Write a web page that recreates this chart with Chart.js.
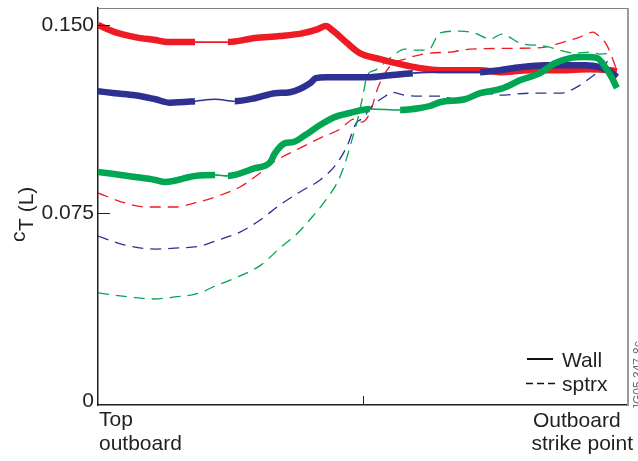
<!DOCTYPE html>
<html>
<head>
<meta charset="utf-8">
<script src="https://cdn.jsdelivr.net/npm/chart.js@4.4.0/dist/chart.umd.min.js"></script>
<style>
  html, body { margin: 0; padding: 0; background: #ffffff; }
  #wrap { width: 638px; height: 461px; position: relative; }
</style>
</head>
<body>
<div id="wrap"><canvas id="c" width="638" height="461"></canvas></div>
<script>
// Position along the outboard target: 0 = top outboard, ~98 = outboard strike point
// cT(L) profiles for three cases: wall-based (solid) and separatrix-based (dashed).

const redWallX   = [0, 3.2, 7.0, 10.8, 13.2, 18.3, 24.5, 29.6, 34.3, 38.7, 41.5, 43.0, 44.2, 45.1, 47.0, 49.4, 53.2, 57.0, 60.8, 64.5, 72.1, 75.8, 81.5, 87.2, 92.8, 96.6, 97.9];
const redWallC   = [0.1500, 0.1472, 0.1452, 0.1440, 0.1432, 0.1432, 0.1432, 0.1448, 0.1456, 0.1468, 0.1484, 0.1496, 0.1480, 0.1464, 0.1428, 0.1388, 0.1364, 0.1344, 0.1328, 0.1320, 0.1320, 0.1312, 0.1320, 0.1320, 0.1324, 0.1320, 0.1316];

const blueWallX  = [0, 3.2, 7.0, 10.8, 13.6, 18.3, 22.1, 25.8, 29.6, 33.4, 36.2, 40.0, 41.1, 43.0, 51.3, 55.1, 59.4, 64.5, 72.1, 75.8, 79.6, 84.3, 91.9, 94.7, 97.0, 97.9];
const blueWallC  = [0.1236, 0.1228, 0.1220, 0.1204, 0.1190, 0.1196, 0.1204, 0.1196, 0.1208, 0.1228, 0.1232, 0.1268, 0.1288, 0.1292, 0.1292, 0.1300, 0.1308, 0.1312, 0.1312, 0.1320, 0.1332, 0.1340, 0.1340, 0.1332, 0.1308, 0.1292];

const greenWallX = [0, 7.0, 10.8, 12.6, 18.3, 22.1, 24.5, 29.6, 32.5, 33.4, 35.3, 36.8, 39.1, 41.9, 44.7, 47.5, 51.3, 57.0, 60.8, 62.6, 64.5, 69.2, 72.1, 75.8, 77.7, 79.6, 83.4, 86.2, 89.1, 91.9, 94.2, 95.7, 97.0, 97.9];
const greenWallC = [0.0914, 0.0894, 0.0882, 0.0874, 0.0898, 0.0902, 0.0898, 0.0929, 0.0953, 0.0989, 0.1029, 0.1033, 0.1061, 0.1101, 0.1133, 0.1149, 0.1165, 0.1161, 0.1169, 0.1177, 0.1192, 0.1204, 0.1228, 0.1244, 0.1260, 0.1280, 0.1308, 0.1348, 0.1368, 0.1372, 0.1368, 0.1332, 0.1288, 0.1249];

const redSptrxX   = [0, 5.1, 8.9, 14.5, 18.3, 22.1, 26.8, 30.6, 33.4, 38.1, 41.9, 45.7, 48.3, 49.8, 51.3, 52.8, 55.1, 57.9, 62.6, 66.4, 70.2, 81.5, 84.3, 87.2, 90.9, 93.4, 94.7, 96.0, 97.9];
const redSptrxC   = [0.0830, 0.0790, 0.0774, 0.0774, 0.0790, 0.0814, 0.0854, 0.0910, 0.0957, 0.1009, 0.1049, 0.1085, 0.1125, 0.1113, 0.1149, 0.1249, 0.1336, 0.1364, 0.1388, 0.1392, 0.1404, 0.1408, 0.1412, 0.1428, 0.1452, 0.1472, 0.1452, 0.1420, 0.1320];

const blueSptrxX  = [0, 5.1, 10.8, 14.5, 19.2, 22.1, 26.8, 30.6, 34.3, 38.1, 41.9, 44.7, 47.0, 48.7, 50.0, 51.7, 54.2, 55.5, 57.9, 60.8, 64.5, 67.4, 71.1, 73.0, 75.8, 81.5, 87.2, 90.0, 92.8, 94.7, 96.6];
const blueSptrxC  = [0.0658, 0.0622, 0.0606, 0.0610, 0.0618, 0.0638, 0.0674, 0.0722, 0.0782, 0.0834, 0.0882, 0.0938, 0.1017, 0.1109, 0.1129, 0.1177, 0.1216, 0.1232, 0.1220, 0.1216, 0.1216, 0.1204, 0.1212, 0.1228, 0.1220, 0.1228, 0.1228, 0.1248, 0.1288, 0.1320, 0.1368];

const greenSptrxX = [0, 6.0, 10.4, 14.5, 18.5, 22.6, 26.8, 30.8, 34.3, 37.5, 40.4, 43.0, 45.3, 46.8, 47.9, 49.1, 50.0, 50.8, 52.3, 55.1, 57.9, 59.8, 62.3, 64.5, 68.3, 71.1, 74.0, 76.2, 79.6, 84.3, 90.0, 92.8, 94.7, 97.0];
const greenSptrxC = [0.0431, 0.0415, 0.0407, 0.0415, 0.0427, 0.0463, 0.0499, 0.0543, 0.0610, 0.0666, 0.0734, 0.0802, 0.0878, 0.0961, 0.1041, 0.1133, 0.1220, 0.1300, 0.1320, 0.1368, 0.1404, 0.1400, 0.1400, 0.1468, 0.1476, 0.1468, 0.1444, 0.1464, 0.1428, 0.1416, 0.1388, 0.1392, 0.1384, 0.1388];

// Stretches where the wall traces are stroked with a thin pen
const redThinRuns   = [[18.3, 24.5]];
const blueThinRuns  = [[18.3, 25.8], [59.4, 72.1]];
const greenThinRuns = [[22.1, 24.5], [51.3, 57.0]];

// Axis ticks and labels
const yTickValues = [0, 0.075, 0.150];
const yTickLabels = ['0', '0.075', '0.150'];
const xMidTick    = 50;
const xEndLabels  = [['Top', 'outboard'], ['Outboard', 'strike point']];
const legendLabels = ['Wall', 'sptrx'];
const yTitleMain = 'c';
const yTitleSub  = 'T (L)';
const figureId   = 'JG05.347-8c';

const RED = '#ed1c24', BLUE = '#2e3192', GREEN = '#00a651', INK = '#231f20';
const FONT = "'Liberation Sans', Arial, Helvetica, sans-serif";

function pts(xs, ys) { return xs.map((x, i) => ({ x: x, y: ys[i] })); }

function wall(xs, ys, color, thinRuns) {
  return {
    data: pts(xs, ys), borderColor: color, borderWidth: 6.5, pointRadius: 0,
    cubicInterpolationMode: 'monotone', borderJoinStyle: 'round', borderCapStyle: 'butt', fill: false,
    segment: {
      borderWidth: c => {
        const a = c.p0.parsed.x, b = c.p1.parsed.x;
        return thinRuns.some(r => a >= r[0] - 1e-6 && b <= r[1] + 1e-6) ? 1.6 : undefined;
      }
    }
  };
}
function sptrx(xs, ys, color) {
  return { data: pts(xs, ys), borderColor: color, borderWidth: 1.3, borderDash: [11, 7], pointRadius: 0,
           cubicInterpolationMode: 'monotone', fill: false };
}

// Extra drawing: frame, inward ticks, axis texts, legend and figure id
const decorations = {
  id: 'decorations',
  afterDatasetsDraw(chart) {
    const { ctx, chartArea: a, scales } = chart;
    const x = scales.x, y = scales.y;
    ctx.save();

    // top and right frame
    ctx.strokeStyle = '#808080';
    ctx.lineWidth = 1;
    ctx.beginPath();
    ctx.moveTo(a.left, a.top + 0.5); ctx.lineTo(a.right, a.top + 0.5);
    ctx.stroke();
    ctx.strokeStyle = '#999999';
    ctx.lineWidth = 2;
    ctx.beginPath();
    ctx.moveTo(a.right, a.top); ctx.lineTo(a.right, a.bottom);
    ctx.stroke();

    // inward tick marks
    ctx.strokeStyle = INK;
    ctx.lineWidth = 1;
    ctx.beginPath();
    yTickValues.filter(v => v > 0).forEach(v => {
      const py = Math.round(y.getPixelForValue(v)) + 0.5;
      ctx.moveTo(a.left, py); ctx.lineTo(a.left + 12, py);
    });
    const mx = Math.round(x.getPixelForValue(xMidTick)) + 0.5;
    ctx.moveTo(mx, a.bottom); ctx.lineTo(mx, a.bottom - 9);
    ctx.stroke();

    ctx.fillStyle = INK;
    ctx.font = '21px ' + FONT;
    ctx.textBaseline = 'alphabetic';

    // x end labels
    ctx.textAlign = 'left';
    const x0 = x.getPixelForValue(0);
    ctx.fillText(xEndLabels[0][0], x0 + 1, a.bottom + 21);
    ctx.fillText(xEndLabels[0][1], x0 + 1, a.bottom + 45);
    ctx.fillText(xEndLabels[1][0], a.right - 95, a.bottom + 22);
    ctx.fillText(xEndLabels[1][1], a.right - 96.5, a.bottom + 45);

    // y title, c with subscript T (L)
    ctx.save();
    ctx.translate(25, 242);
    ctx.rotate(-Math.PI / 2);
    ctx.fillText(yTitleMain, 0, 0);
    const cw = ctx.measureText(yTitleMain).width;
    ctx.fillText(yTitleSub, cw + 0.5, 8);
    ctx.restore();

    // legend
    ctx.strokeStyle = '#111111';
    ctx.lineWidth = 2;
    ctx.beginPath();
    ctx.moveTo(527, 359); ctx.lineTo(553, 359);
    ctx.stroke();
    ctx.lineWidth = 1.5;
    ctx.setLineDash([7, 4]);
    ctx.beginPath();
    ctx.moveTo(526, 383.5); ctx.lineTo(555, 383.5);
    ctx.stroke();
    ctx.setLineDash([]);
    ctx.fillText(legendLabels[0], 562, 367);
    ctx.fillText(legendLabels[1], 562, 391);

    // figure id along the right edge
    ctx.save();
    ctx.fillStyle = '#6d6e71';
    ctx.font = '12px ' + FONT;
    ctx.translate(642, 410);
    ctx.rotate(-Math.PI / 2);
    ctx.fillText(figureId, 0, 0);
    ctx.restore();

    ctx.restore();
  }
};

Chart.defaults.font.family = FONT;

new Chart(document.getElementById('c'), {
  type: 'line',
  data: {
    datasets: [
      wall(greenWallX, greenWallC, GREEN, greenThinRuns),
      wall(blueWallX, blueWallC, BLUE, blueThinRuns),
      wall(redWallX, redWallC, RED, redThinRuns),
      sptrx(greenSptrxX, greenSptrxC, GREEN),
      sptrx(blueSptrxX, blueSptrxC, BLUE),
      sptrx(redSptrxX, redSptrxC, RED)
    ]
  },
  options: {
    responsive: false,
    animation: false,
    devicePixelRatio: 1,
    layout: { padding: { top: 8, right: 10, left: 0, bottom: 0 } },
    plugins: { legend: { display: false }, tooltip: { enabled: false } },
    scales: {
      x: {
        type: 'linear', min: 0, max: 100,
        grid: { display: false, drawTicks: false },
        border: { display: true, color: INK, width: 1.5 },
        ticks: { display: false },
        afterFit(scale) { scale.height = 56; scale.paddingLeft = 0; scale.paddingRight = 0; }
      },
      y: {
        type: 'linear', min: -0.0016, max: 0.1568,
        grid: { display: false, drawTicks: false },
        border: { display: true, color: INK, width: 1.5 },
        afterBuildTicks(scale) { scale.ticks = yTickValues.map(v => ({ value: v })); },
        ticks: {
          color: INK, padding: 4,
          font: { size: 21, family: FONT },
          callback(v) { const i = yTickValues.indexOf(v); return i >= 0 ? yTickLabels[i] : ''; }
        },
        afterFit(scale) { scale.width = 98; scale.paddingTop = 0; scale.paddingBottom = 0; }
      }
    }
  },
  plugins: [decorations]
});
</script>
</body>
</html>
